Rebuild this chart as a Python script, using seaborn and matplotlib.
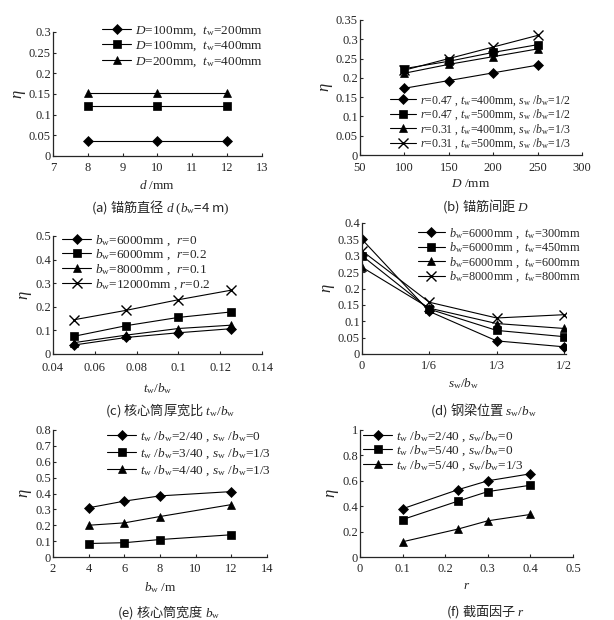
import matplotlib
matplotlib.use("Agg")
import matplotlib.pyplot as plt
import seaborn as sns

# ---- data ----
# (a) anchor bar diameter
a_x = [8, 10, 12]
a_y1 = [0.037, 0.037, 0.037]
a_y2 = [0.12, 0.12, 0.12]
a_y3 = [0.152, 0.152, 0.152]
a_labels = [r"$D$=100mm,  $t_{\rm w}$=200mm",
            r"$D$=100mm,  $t_{\rm w}$=400mm",
            r"$D$=200mm,  $t_{\rm w}$=400mm"]

# (b) anchor bar spacing
b_x = [100, 150, 200, 250]
b_y1 = [0.173, 0.193, 0.213, 0.233]
b_y2 = [0.224, 0.243, 0.266, 0.286]
b_y3 = [0.212, 0.235, 0.255, 0.275]
b_y4 = [0.220, 0.250, 0.280, 0.310]
b_labels = [r"$r$=0.47 , $t_{\rm w}$=400mm, $s_{\rm w}$ /$b_{\rm w}$=1/2",
            r"$r$=0.47 , $t_{\rm w}$=500mm, $s_{\rm w}$ /$b_{\rm w}$=1/2",
            r"$r$=0.31 , $t_{\rm w}$=400mm, $s_{\rm w}$ /$b_{\rm w}$=1/3",
            r"$r$=0.31 , $t_{\rm w}$=500mm, $s_{\rm w}$ /$b_{\rm w}$=1/3"]

# (c) core tube thickness / width
c_x = [0.05, 0.075, 0.1, 0.125]
c_y1 = [0.038, 0.070, 0.090, 0.107]
c_y2 = [0.075, 0.120, 0.155, 0.178]
c_y3 = [0.048, 0.080, 0.108, 0.122]
c_y4 = [0.145, 0.185, 0.230, 0.270]
c_labels = [r"$b_{\rm w}$=6000mm ,  $r$=0",
            r"$b_{\rm w}$=6000mm ,  $r$=0.2",
            r"$b_{\rm w}$=8000mm ,  $r$=0.1",
            r"$b_{\rm w}$=12000mm , $r$=0.2"]

# (d) steel beam position
d_x = [0, 1/6, 1/3, 1/2]
d_ticklabels = ["0", "1/6", "1/3", "1/2"]
d_y1 = [0.350, 0.130, 0.040, 0.022]
d_y2 = [0.300, 0.137, 0.072, 0.053]
d_y3 = [0.265, 0.140, 0.093, 0.078]
d_y4 = [0.315, 0.158, 0.110, 0.120]
d_labels = [r"$b_{\rm w}$=6000mm ,  $t_{\rm w}$=300mm",
            r"$b_{\rm w}$=6000mm ,  $t_{\rm w}$=450mm",
            r"$b_{\rm w}$=6000mm ,  $t_{\rm w}$=600mm",
            r"$b_{\rm w}$=8000mm ,  $t_{\rm w}$=800mm"]

# (e) core tube width
e_x = [4, 6, 8, 12]
e_y1 = [0.310, 0.352, 0.385, 0.412]
e_y2 = [0.085, 0.090, 0.110, 0.140]
e_y3 = [0.200, 0.215, 0.255, 0.330]
e_labels = [r"$t_{\rm w}$ /$b_{\rm w}$=2/40 , $s_{\rm w}$ /$b_{\rm w}$=0",
            r"$t_{\rm w}$ /$b_{\rm w}$=3/40 , $s_{\rm w}$ /$b_{\rm w}$=1/3",
            r"$t_{\rm w}$ /$b_{\rm w}$=4/40 , $s_{\rm w}$ /$b_{\rm w}$=1/3"]

# (f) section factor
f_x = [0.1, 0.23, 0.3, 0.4]
f_y1 = [0.380, 0.530, 0.600, 0.655]
f_y2 = [0.295, 0.440, 0.515, 0.565]
f_y3 = [0.120, 0.220, 0.285, 0.335]
f_labels = [r"$t_{\rm w}$ /$b_{\rm w}$=2/40 , $s_{\rm w}$/$b_{\rm w}$=0",
            r"$t_{\rm w}$ /$b_{\rm w}$=5/40 , $s_{\rm w}$/$b_{\rm w}$=0",
            r"$t_{\rm w}$ /$b_{\rm w}$=5/40 , $s_{\rm w}$/$b_{\rm w}$=1/3"]

captions = [r"(a) 锚筋直径 $d\ (b_{\rm w}$=4 m$)$",
            r"(b) 锚筋间距 $D$",
            r"(c) 核心筒厚宽比 $t_{\rm w}/b_{\rm w}$",
            r"(d) 钢梁位置 $s_{\rm w}/b_{\rm w}$",
            r"(e) 核心筒宽度 $b_{\rm w}$",
            r"(f) 截面因子 $r$"]

# ---- style ----
sns.set_style("ticks")
plt.rcParams['font.family'] = ['Liberation Serif', 'Noto Sans CJK SC']
plt.rcParams['mathtext.fontset'] = 'custom'
plt.rcParams['mathtext.rm'] = 'Liberation Serif'
plt.rcParams['mathtext.it'] = 'Liberation Serif:italic'
plt.rcParams['mathtext.bf'] = 'Liberation Serif:bold'
plt.rcParams['xtick.direction'] = 'in'
plt.rcParams['ytick.direction'] = 'in'
plt.rcParams['xtick.major.size'] = 2.5
plt.rcParams['ytick.major.size'] = 2.5
plt.rcParams['axes.linewidth'] = 0.9
plt.rcParams['font.size'] = 9

W, H = 614, 620
fig = plt.figure(figsize=(W / 100, H / 100), dpi=100)


def add_axes(left, right, top, bottom):
    return fig.add_axes([left / W, 1 - bottom / H, (right - left) / W, (bottom - top) / H])


def fmt(v):
    return f"{v:g}"


markers = ['D', 's', '^', 'x']
msizes = [4.8, 5.2, 5.6, 6.5]


def draw(ax, x, ys, labels):
    for i, (y, lab) in enumerate(zip(ys, labels)):
        sns.lineplot(x=x, y=y, ax=ax, color='k', linewidth=0.8, marker=markers[i],
                     markersize=msizes[i], markeredgecolor='k', markerfacecolor='k',
                     markeredgewidth=1.0 if markers[i] == 'x' else 0.5, label=lab)
    sns.despine(ax=ax)
    ax.set_ylabel(r"$\eta$", fontsize=12, labelpad=1)


def legend(ax, px, py, spacing, size=9):
    ax.legend(loc='upper left', bbox_to_anchor=(px / W, 1 - py / H), bbox_transform=fig.transFigure,
              frameon=False, borderpad=0, borderaxespad=0, handlelength=2.2, handletextpad=0.3,
              labelspacing=spacing, fontsize=size)


def ticks(ax, xt, yt, xl=None, xpad=4):
    ax.set_xticks(xt)
    ax.set_xticklabels(xl if xl is not None else [fmt(v) for v in xt])
    ax.set_yticks(yt)
    ax.set_yticklabels([fmt(v) for v in yt])
    ax.set_xlim(xt[0], xt[-1])
    ax.set_ylim(yt[0], yt[-1])
    ax.tick_params(labelsize=9, width=0.8)
    ax.tick_params(axis='x', pad=xpad)
    ax.tick_params(axis='y', pad=1.5)


# (a)
ax = add_axes(53, 262, 32, 156)
draw(ax, a_x, [a_y1, a_y2, a_y3], a_labels)
ticks(ax, [7, 8, 9, 10, 11, 12, 13], [0, 0.05, 0.1, 0.15, 0.2, 0.25, 0.3])
ax.set_xlabel(r"$d$ /mm", fontsize=9.5, labelpad=4)
legend(ax, 102, 24, 0.15, 9.5)

# (b)
ax = add_axes(360, 582, 20, 155)
draw(ax, b_x, [b_y1, b_y2, b_y3, b_y4], b_labels)
ticks(ax, [50, 100, 150, 200, 250, 300], [0, 0.05, 0.1, 0.15, 0.2, 0.25, 0.3, 0.35], xpad=5)
ax.set_xlabel(r"$D$ /mm", fontsize=9.5, labelpad=3)
legend(ax, 390, 93, 0.0, 8.5)

# (c)
ax = add_axes(53, 262, 236, 354)
draw(ax, c_x, [c_y1, c_y2, c_y3, c_y4], c_labels)
ticks(ax, [0.04, 0.06, 0.08, 0.1, 0.12, 0.14], [0, 0.1, 0.2, 0.3, 0.4, 0.5], xpad=6)
ax.set_xlabel(r"$t_{\rm w}/b_{\rm w}$", fontsize=9.5, labelpad=5)
legend(ax, 62, 233, 0.02, 9.5)

# (d)
ax = add_axes(362, 566, 223, 354)
draw(ax, d_x, [d_y1, d_y2, d_y3, d_y4], d_labels)
ticks(ax, d_x, [0, 0.05, 0.1, 0.15, 0.2, 0.25, 0.3, 0.35, 0.4], d_ticklabels)
ax.set_xlim(0, 0.505)
ax.set_xlabel(r"$s_{\rm w}/b_{\rm w}$", fontsize=9.5, labelpad=3)
legend(ax, 418, 226, 0.0, 8.8)

# (e)
ax = add_axes(53, 267, 430, 557)
draw(ax, e_x, [e_y1, e_y2, e_y3], e_labels)
ticks(ax, [2, 4, 6, 8, 10, 12, 14], [0, 0.1, 0.2, 0.3, 0.4, 0.5, 0.6, 0.7, 0.8])
ax.set_xlabel(r"$b_{\rm w}$ /m", fontsize=9.5, labelpad=4)
legend(ax, 107, 429, 0.2, 9.5)

# (f)
ax = add_axes(360, 573, 430, 557)
draw(ax, f_x, [f_y1, f_y2, f_y3], f_labels)
ticks(ax, [0, 0.1, 0.2, 0.3, 0.4, 0.5], [0, 0.2, 0.4, 0.6, 0.8, 1])
ax.set_xlabel(r"$r$", fontsize=9.5, labelpad=4)
legend(ax, 363, 429, 0.0, 9.5)

# captions
cap_pos = [(160, 208), (486, 206), (170, 410), (483, 410), (169, 612), (486, 612)]
for (cx, cy), txt in zip(cap_pos, captions):
    fig.text(cx / W, 1 - cy / H, txt, ha='center', va='center', fontsize=9.5,
             fontfamily='Noto Sans CJK SC')

fig.savefig("out.png", dpi=100)
